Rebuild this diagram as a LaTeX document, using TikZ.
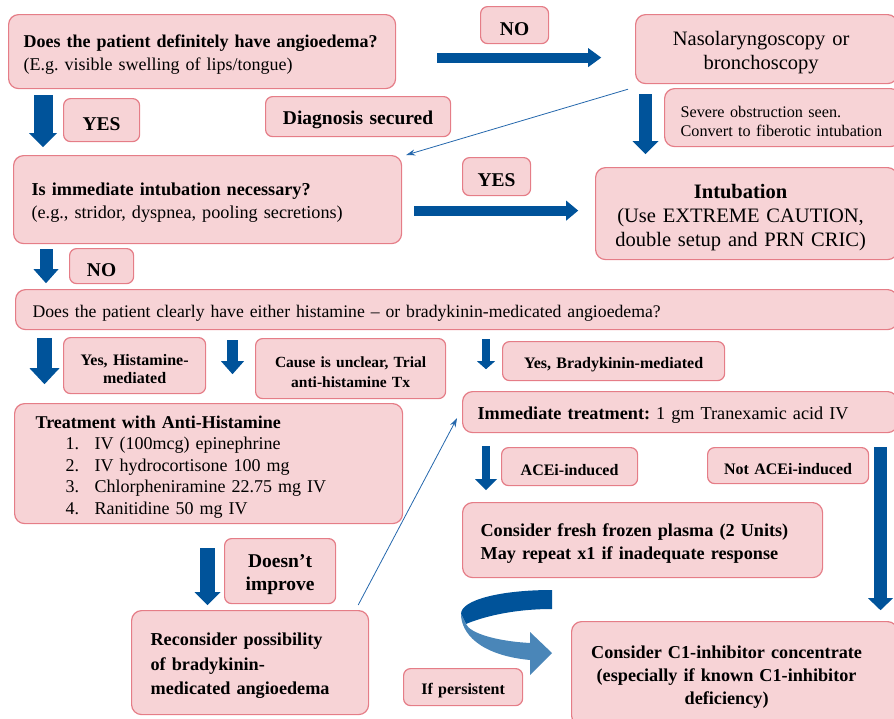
\documentclass[tikz,border=0pt]{standalone}
\usepackage{fontspec}
\setmainfont{Liberation Serif}
\usetikzlibrary{arrows.meta}
\frenchspacing

\definecolor{boxfill}{HTML}{F7D3D6}
\definecolor{boxline}{HTML}{E57D87}
\definecolor{arrowblue}{HTML}{00539A}
\definecolor{bendblue}{HTML}{4A86B8}
\definecolor{linkblue}{HTML}{2467AC}

\tikzset{
  pinkbox/.style={draw=boxline, fill=boxfill, line width=1.2pt, rounded corners=10pt,
    anchor=north west, inner ysep=0pt,
    execute at begin node={\rule{0pt}{\dimexpr0.75em+6pt\relax}}},
  lblbox/.style={pinkbox, rounded corners=7pt, align=center, inner xsep=0pt,
    minimum width=#1, text width=#1, font=\fontsize{19.5}{23}\selectfont\bfseries},
  smalllbl/.style={lblbox=#1, font=\fontsize{16}{19}\selectfont\bfseries},
  bodytxt/.style={font=\fontsize{18.2}{23}\selectfont},
  bigtxt/.style={font=\fontsize{20.5}{24}\selectfont},
  blk/.style n args={3}{draw=arrowblue, line width=#1pt,
    -{Triangle[width=#2pt,length=#3pt,line width=0pt]}},
  link/.style={draw=linkblue, line width=0.8pt, -{Stealth[length=9pt,width=6pt]}},
}

\begin{document}
\begin{tikzpicture}[x=1pt,y=-1pt]
  \useasboundingbox (0,0) rectangle (894,718);
  \clip (0,0) rectangle (894,718);

  % first question and the NO branch
  \node[pinkbox, font=\fontsize{18}{23}\selectfont, minimum width=387pt, minimum height=74pt,
    inner xsep=15pt, text width=357pt, align=left] (q1) at (8,14)
    {\textbf{Does the patient definitely have angioedema?}\\(E.g. visible swelling of lips/tongue)};
  \node[lblbox=68pt, minimum height=37pt] (nolbl1) at (480,6) {NO};
  \node[pinkbox, bigtxt, minimum width=262pt, minimum height=69pt,
    inner xsep=10pt, text width=242pt, align=center] (naso) at (635,14)
    {\hspace*{-11pt}Nasolaryngoscopy or\\\hspace*{-11pt}bronchoscopy};
  \node[pinkbox, font=\fontsize{16.2}{19}\selectfont, minimum width=236pt, minimum height=58pt,
    inner xsep=16pt, text width=204pt, align=left] (sev) at (664,88)
    {Severe obstruction seen.\\Convert to fiberotic intubation};
  \node[lblbox=76pt, minimum height=43pt] (yeslbl1) at (63,98) {YES};
  \node[lblbox=185pt, minimum height=40pt] (diag) at (265,96) {Diagnosis secured};

  % second question
  \node[pinkbox, bodytxt, minimum width=388pt, minimum height=88pt, inner xsep=18pt,
    text width=352pt, align=left] (q2) at (13,155)
    {\textbf{Is immediate intubation necessary?}\\(e.g., stridor, dyspnea, pooling secretions)};
  \node[lblbox=68pt, minimum height=38pt] (yeslbl2) at (462,157) {YES};
  \node[pinkbox, bigtxt, minimum width=302pt, minimum height=92pt,
    inner xsep=10pt, text width=282pt, align=center] (intub) at (595,167)
    {\hspace*{-12pt}\textbf{Intubation}\\\hspace*{-12pt}(Use EXTREME CAUTION,\\\hspace*{-12pt}double setup and PRN CRIC)};
  \node[lblbox=64pt, minimum height=35pt] (nolbl2) at (69,248) {NO};

  % cause of the angioedema
  \node[pinkbox, font=\fontsize{17.7}{21}\selectfont, minimum width=882pt, minimum height=40pt,
    inner xsep=17pt, text width=848pt, align=left] (cause) at (15,289)
    {Does the patient clearly have either histamine -- or bradykinin-medicated angioedema?};
  \node[smalllbl=142pt, font=\fontsize{16}{18.5}\selectfont\bfseries,
    minimum height=56pt] (hislbl) at (63,337) {Yes, Histamine-\\mediated};
  \node[smalllbl=190pt, font=\fontsize{15.5}{20}\selectfont\bfseries,
    minimum height=60pt] (unclear) at (255,338) {Cause is unclear, Trial\\anti-histamine Tx};
  \node[smalllbl=222pt, minimum height=39pt] (brlbl) at (502,341)
    {Yes, Bradykinin-mediated};

  % histamine side
  \node[pinkbox, font=\fontsize{18}{21.5}\selectfont, minimum width=388pt, minimum height=120pt,
    inner xsep=21pt, text width=346pt, align=left] (treat) at (14,403)
    {\textbf{Treatment with Anti-Histamine}\\
     \hspace*{30pt}\makebox[29pt][l]{1.}IV (100mcg) epinephrine\\
     \hspace*{30pt}\makebox[29pt][l]{2.}IV hydrocortisone 100 mg\\
     \hspace*{30pt}\makebox[29pt][l]{3.}Chlorpheniramine 22.75 mg IV\\
     \hspace*{30pt}\makebox[29pt][l]{4.}Ranitidine 50 mg IV};
  \node[lblbox=111pt, minimum height=65pt] (dilbl) at (224,538) {Doesn’t\\improve};
  \node[pinkbox, font=\fontsize{18.2}{24.5}\selectfont\bfseries, minimum width=237pt,
    minimum height=104pt, inner xsep=19pt, text width=199pt, align=left] (recon) at (131,610)
    {Reconsider possibility\\of bradykinin-\\medicated angioedema};

  % bradykinin side
  \node[pinkbox, bodytxt, minimum width=435pt, minimum height=41pt, inner xsep=15pt,
    text width=405pt, align=left] (imm) at (462,391)
    {\textbf{Immediate treatment:} 1 gm Tranexamic acid IV};
  \node[smalllbl=136pt, minimum height=38pt] (acelbl) at (501,447) {ACEi-induced};
  \node[smalllbl=161pt, minimum height=36pt] (notacelbl) at (707,447) {Not ACEi-induced};
  \node[pinkbox, font=\fontsize{18.2}{23}\selectfont\bfseries, minimum width=360pt,
    minimum height=75pt, inner xsep=18pt, text width=324pt, align=left] (ffp) at (462,502)
    {Consider fresh frozen plasma (2 Units)\\May repeat x1 if inadequate response};
  \node[smalllbl=119pt, minimum height=37pt] (perslbl) at (403,668) {If persistent};
  \node[pinkbox, font=\fontsize{18.2}{23}\selectfont\bfseries, minimum width=326pt,
    minimum height=104pt, inner xsep=8pt, text width=310pt, align=center] (c1) at (571,621)
    {\hspace*{-16pt}Consider C1-inhibitor concentrate\\\hspace*{-16pt}(especially if known C1-inhibitor\\\hspace*{-16pt}deficiency)};

  % block arrows
  \draw[blk={19}{28}{14}] ([shift={(35,6)}]q1.south west) -- ++(0,52);
  \draw[blk={10}{19}{13}] ([shift={(41,6)}]q1.east) -- ++(164,0);
  \draw[blk={13}{26}{13}] ([shift={(10.5,10)}]naso.south west) -- ++(0,60);
  \draw[blk={10}{20}{12}] ([shift={(12,11)}]q2.east) -- ++(164,0);
  \draw[blk={13}{25}{14}] ([shift={(33,5)}]q2.south west) -- ++(0,34);
  \draw[blk={15}{30}{16}] ([shift={(29.5,8)}]cause.south west) -- ++(0,46);
  \draw[blk={11}{23}{13}] ([shift={(217.5,10)}]cause.south west) -- ++(0,34);
  \draw[blk={8}{18}{8}] ([shift={(471,9)}]cause.south west) -- ++(0,30);
  \draw[blk={8}{22}{11}] ([shift={(24,13)}]imm.south west) -- ++(0,44);
  \draw[blk={13}{25}{12}] ([shift={(418.5,14)}]imm.south west) -- ++(0,163);
  \draw[blk={15}{26}{13}] ([shift={(193.5,24)}]treat.south west) -- ++(0,57);

  % thin links
  \draw[link] ([shift={(-7,5)}]naso.south west) -- ([shift={(4,0)}]q2.north east);
  \draw[link] ([shift={(-11,-5)}]recon.north east) -- ([shift={(-5,-15)}]imm.south west);

  % bent arrow, if persistent
  \fill[arrowblue] (552,590) .. controls (500,590) and (461,600) .. (461,614)
    -- (466,624) .. controls (480,618) and (510,609) .. (552,609) -- cycle;
  \fill[bendblue] (461,614) .. controls (461,632) and (478,655) .. (530,660)
    -- (530,675) -- (552,653) -- (530,632) -- (530,643)
    .. controls (495,641) and (470,633) .. (466,624) -- cycle;
\end{tikzpicture}
\end{document}
